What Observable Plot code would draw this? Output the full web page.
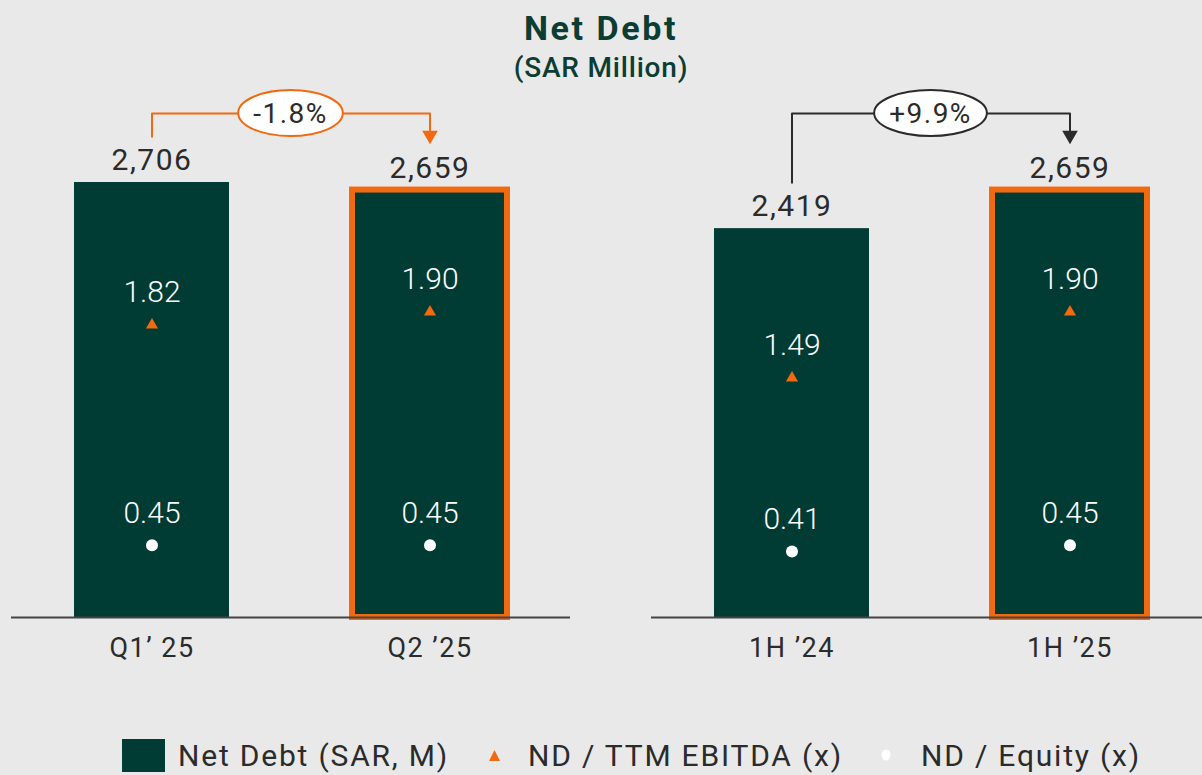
<!DOCTYPE html>
<html><head><meta charset="utf-8">
<script src="https://cdn.jsdelivr.net/npm/d3@7"></script>
<script src="https://cdn.jsdelivr.net/npm/@observablehq/plot@0.6"></script>
<style>
html,body{margin:0;padding:0;background:#e9e9e9;overflow:hidden;width:1202px;height:775px;font-family:Roboto,"Noto Sans",sans-serif;}
#title{height:88px;text-align:center;color:#0b3d33;}
#title .t1{font-size:34px;font-weight:700;line-height:40px;padding-top:8px;letter-spacing:2.6px;}
#title .t2{font-size:28px;font-weight:500;line-height:40px;letter-spacing:0.8px;}
#charts{display:flex;width:1202px;height:620px;overflow:hidden;}
#charts > div{flex:none;width:640px;height:620px;}
#charts svg text{letter-spacing:1.5px;}
#charts g[fill="#fff"] text{letter-spacing:0;}
#legend{height:40px;margin-top:27px;display:flex;align-items:center;color:#2b2b2b;font-size:30px;padding-left:122px;white-space:nowrap;letter-spacing:1.8px;}
#legend .sw{width:43px;height:33px;background:#003b34;margin-right:13px;}
#legend svg{flex:none;}
</style></head><body>
<div id="title"><div class="t1">Net Debt</div><div class="t2">(SAR Million)</div></div>
<div id="charts"><div id="pA"></div><div id="pB"></div></div>
<div id="legend">
  <div class="sw"></div><span id="l1">Net Debt (SAR, M)</span>
  <svg width="11" height="11" style="margin-left:40px;margin-right:28px"><polygon points="5.5,0 11,11 0,11" fill="#f26a10"/></svg>
  <span id="l2">ND / TTM EBITDA (x)</span>
  <svg width="10" height="12" style="margin-left:38px;margin-right:30px"><ellipse cx="5" cy="6" rx="4.5" ry="5.5" fill="#fff"/></svg>
  <span id="l3">ND / Equity (x)</span>
</div>
<script>
// ---- data ----
const periodsA = ["Q1\u2019 25", "Q2 \u201925"];
const periodsB = ["1H \u201924", "1H \u201925"];
const netDebtA = [2706, 2659];
const netDebtB = [2419, 2659];
const ndEbitdaA = [1.82, 1.90];
const ndEbitdaB = [1.49, 1.90];
const ndEquityA = [0.45, 0.45];
const ndEquityB = [0.41, 0.45];
const changeA = "-1.8%";
const changeB = "+9.9%";
const highlighted = ["Q2 \u201925", "1H \u201925"];

// ---- styling ----
const GREEN = "#003b34", ORANGE = "#f26a10", DARK = "#2b2b2b";
const H = 620, MB = 91, baseline = H - MB;
const k = 435 / 2706;            // px per SAR M
const yMax = 3000;
const ratioUnit = 1000;          // ratios plotted on the same axis (1x = 1000)
const pad = 285, level = 3135;   // connector geometry in SAR M units

function panel(el, cats, debt, ebitda, equity, change, accent) {
  const rows = cats.map((c, i) => ({cat: c, debt: debt[i], ebitda: ebitda[i], equity: equity[i]}));
  const arrowLen = 13 / k;
  const conn = [
    {cat: cats[0], y: debt[0] + pad},
    {cat: cats[0], y: level},
    {cat: cats[1], y: level},
    {cat: cats[1], y: debt[1] + pad + arrowLen}
  ];
  const chart = Plot.plot({
    width: 640, height: H,
    marginLeft: 11, marginRight: 70, marginBottom: MB, marginTop: baseline - yMax * k,
    style: {background: "transparent", fontFamily: "Roboto, 'Noto Sans', sans-serif", overflow: "visible"},
    x: {domain: cats, paddingInner: 0.441, paddingOuter: 0.2223, axis: null},
    y: {domain: [0, yMax], axis: null},
    marks: [
      Plot.barY(rows, {x: "cat", y: "debt", fill: GREEN,
        stroke: d => highlighted.includes(d.cat) ? ORANGE : "none", strokeWidth: 6}),
      Plot.ruleY([0], {stroke: "#444", strokeWidth: 2}),
      Plot.axisX({tickSize: 0, tickPadding: 20, fontSize: 27, color: DARK, label: null}),
      Plot.text(rows, {x: "cat", y: "debt", text: d => d3.format(",")(d.debt), dy: -22, fontSize: 30, fill: DARK}),
      Plot.text(rows, {x: "cat", y: d => d.ebitda * ratioUnit, text: d => d.ebitda.toFixed(2), dy: -33, fontSize: 30, fontWeight: 300, fill: "#fff"}),
      Plot.dot(rows, {x: "cat", y: d => d.ebitda * ratioUnit, symbol: "triangle", r: 4.5, fill: ORANGE}),
      Plot.text(rows, {x: "cat", y: d => d.equity * ratioUnit, text: d => d.equity.toFixed(2), dy: -32, fontSize: 30, fontWeight: 300, fill: "#fff"}),
      Plot.dot(rows, {x: "cat", y: d => d.equity * ratioUnit, r: 6, fill: "#fff"}),
      Plot.line(conn, {x: "cat", y: "y", stroke: accent, strokeWidth: 2, curve: "linear"}),
      Plot.dot([{cat: cats[1], y: debt[1] + pad}], {x: "cat", y: "y", symbol: "triangle", rotate: 180, r: 5.8, fill: accent, dy: -9})
    ]
  });
  document.getElementById(el).appendChild(chart);
  const sx = chart.scale("x"), sy = chart.scale("y");
  const cx = (sx.apply(cats[0]) + sx.apply(cats[1])) / 2 + sx.bandwidth / 2;
  const cy = sy.apply(level);
  const g = d3.select(chart).append("g");
  const ell = g.append("ellipse").attr("cx", cx).attr("cy", cy).attr("ry", 23)
    .attr("fill", "#fff").attr("stroke", accent).attr("stroke-width", 2);
  const t = g.append("text").attr("x", cx).attr("y", cy).attr("dy", "0.35em")
    .attr("text-anchor", "middle").attr("font-size", 28).attr("fill", DARK).text(change);
  const w = t.node().getBBox().width;
  ell.attr("rx", w / 2 + 15);
}
panel("pA", periodsA, netDebtA, ndEbitdaA, ndEquityA, changeA, ORANGE);
panel("pB", periodsB, netDebtB, ndEbitdaB, ndEquityB, changeB, DARK);
</script>
</body></html>
